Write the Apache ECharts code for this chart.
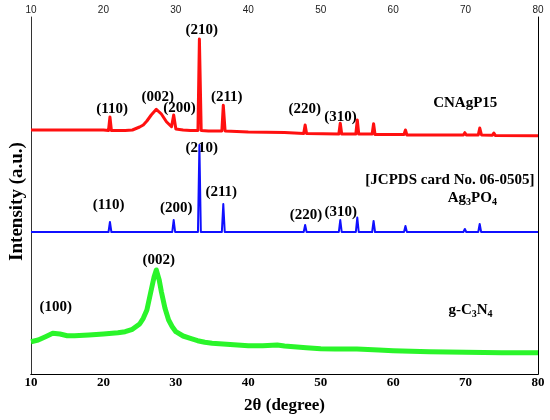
<!DOCTYPE html>
<html>
<head>
<meta charset="utf-8">
<script src="https://cdn.jsdelivr.net/npm/echarts@6/dist/echarts.min.js"></script>
<style>
html,body{margin:0;padding:0;background:#fff;}
#chart{width:550px;height:420px;}
</style>
</head>
<body>
<div id="chart"></div>
<script>
// 2θ ticks
var xTicks = [10, 20, 30, 40, 50, 60, 70, 80];

// CNAgP15 pattern (offset, arbitrary units) [2θ, intensity]
var cnagp15Pattern = [
  [10,244],[15,244],[20,244],[20.7,243.5],[20.9,257],[21.1,243.5],[22,243.5],[23,243.5],
  [24,244],[25,247],[25.5,249],[26,253],[26.6,259],[27.3,264.7],[28,260],[28.7,252.3],
  [29.4,247.3],[29.7,259],[30,245],[31,244],[32,243.5],[33.05,243.5],[33.25,335],[33.5,243.5],
  [34.5,243],[36.35,243],[36.55,268.7],[36.8,243],[40,242],[45,241.5],[47.65,240.5],
  [47.85,249],[48.05,240.5],[52.5,240],[52.7,250.7],[52.9,240],[54.85,240],[55.05,254],
  [55.25,240],[57.1,240],[57.3,250.3],[57.5,239.5],[61.5,239.5],[61.7,244],[61.9,239],
  [69.7,239],[69.9,241.3],[70.1,239],[71.75,239],[71.96,246],[72.2,239],[73.7,238.8],
  [73.9,241],[74.1,238.6],[80,238.3]
];

// Ag3PO4 reference pattern (JCPDS 06-0505)
var ag3po4Pattern = [
  [10,142],[20.7,142],[20.9,152],[21.1,142],[29.5,142],[29.7,154],[29.9,142],
  [33.05,142],[33.25,229],[33.45,142],[36.35,142],[36.55,170],[36.75,142],
  [42.4,142],[42.6,144],[42.8,142],[47.65,142],[47.85,149],[48.05,142],
  [52.5,142],[52.7,154],[52.9,142],[54.85,142],[55.05,156.5],[55.25,142],
  [57.1,142],[57.3,153],[57.5,142],[61.5,142],[61.7,148],[61.9,142],
  [65.7,142],[65.9,143],[66.1,142],[69.7,142],[69.9,145],[70.1,142],
  [71.75,142],[71.95,150],[72.15,142],[73.7,142],[73.9,144],[74.1,142],
  [77.8,142],[78,143],[78.2,142],[80,142]
];

// g-C3N4 pattern
var gc3n4Pattern = [
  [10,32.3],[11,34],[12,37.3],[13,40.7],[14,40],[15,38.3],[16,38.3],[18,39],[20,40],
  [22,41.3],[23,42.3],[24,44.7],[25,50],[25.5,55.7],[26,64],[26.5,80.7],[27,97.3],
  [27.3,104],[27.7,94],[28,82.3],[28.5,65.7],[29,54],[29.5,47.3],[30,42.3],[31,38],
  [32,35.7],[33,33.3],[34,31.7],[35,30.7],[36,30.3],[38,29.3],[40,28.3],[42,28.3],
  [44,29],[45,28],[48,26.3],[50,25.3],[52,25],[55,25],[58,24],[60,23.3],[65,22.3],
  [70,21.7],[75,21.3],[80,21.3]
];

// annotations [2θ, intensity, text]
var cnagp15Labels = [
  [21.19,264.7,'(110)'],[27.49,276.7,'(002)'],[30.51,265.7,'(200)'],[33.56,344,'(210)'],
  [37.03,276.7,'(211)'],[47.78,264.7,'(220)'],[52.74,257.3,'(310)'],[69.96,271.3,'CNAgP15']
];
var ag3po4Labels = [
  [20.71,169,'(110)'],[30.04,166.3,'(200)'],[33.59,225.7,'(210)'],[36.27,181.7,'(211)'],
  [47.97,159,'(220)'],[52.77,162.3,'(310)'],[67.84,194,'[JCPDS card No. 06-0505]'],
  [70.93,175.7,'{b|Ag}{s|3}{b|PO}{s|4}']
];
var gc3n4Labels = [
  [27.64,114,'(002)'],[13.4,66.7,'(100)'],[70.68,64,'{b|g-C}{s|3}{b|N}{s|4}']
];

var SERIF = 'Liberation Serif, Times New Roman, serif';

function lineSeries(data, color, width) {
  return {
    type: 'line',
    z: 3,
    data: data,
    showSymbol: false,
    silent: true,
    lineStyle: { color: color, width: width, join: 'round' }
  };
}

var chart = echarts.init(document.getElementById('chart'));
chart.setOption({
  animation: false,
  backgroundColor: '#fff',
  grid: { left: 27, right: 12, top: 17, bottom: 46 },
  xAxis: [
    {
      type: 'value', position: 'bottom', min: xTicks[0], max: xTicks[xTicks.length - 1], interval: 10,
      axisLine: { show: true, lineStyle: { color: '#000', width: 1 } },
      axisTick: { show: false }, splitLine: { show: false },
      axisLabel: { fontFamily: SERIF, fontWeight: 'bold', fontSize: 13, color: '#000', margin: 2 },
      name: '2θ (degree)', nameLocation: 'middle', nameGap: 23,
      nameTextStyle: { fontFamily: SERIF, fontWeight: 'bold', fontSize: 17, color: '#000' }
    },
    {
      type: 'value', position: 'top', min: xTicks[0], max: xTicks[xTicks.length - 1], interval: 10,
      axisLine: { show: true, lineStyle: { color: '#000', width: 1 } },
      axisTick: { show: false }, splitLine: { show: false },
      axisLabel: { fontFamily: 'Liberation Sans, Arial, sans-serif', fontSize: 10, color: '#222', margin: 2 }
    }
  ],
  yAxis: [
    {
      type: 'value', position: 'left', min: 0, max: 357,
      axisLine: { show: true, lineStyle: { color: '#333', width: 1 } },
      axisTick: { show: false }, splitLine: { show: false }, axisLabel: { show: false },
      name: 'Intensity (a.u.)', nameLocation: 'middle', nameGap: 4, nameRotate: 90,
      nameTextStyle: { fontFamily: SERIF, fontWeight: 'bold', fontSize: 19, color: '#000', padding: [0, 12, 0, 0] }
    },
    {
      type: 'value', position: 'right', min: 0, max: 357,
      axisLine: { show: true, lineStyle: { color: '#000', width: 1 } },
      axisTick: { show: false }, splitLine: { show: false }, axisLabel: { show: false }
    }
  ],
  series: [
    lineSeries(gc3n4Pattern, '#2af52a', 5),
    lineSeries(ag3po4Pattern, '#1010ff', 2),
    lineSeries(cnagp15Pattern, '#ff1010', 3)
  ]
});

var RICH = {
  b: { fontFamily: SERIF, fontWeight: 'bold', fontSize: 15, fill: '#000' },
  s: { fontFamily: SERIF, fontWeight: 'bold', fontSize: 10, fill: '#000', padding: [9, 0, 0, 0] }
};
var texts = [];
[cnagp15Labels, ag3po4Labels, gc3n4Labels].forEach(function (arr) {
  arr.forEach(function (d) {
    var p = chart.convertToPixel({ xAxisIndex: 0, yAxisIndex: 0 }, [d[0], d[1]]);
    texts.push({
      type: 'text',
      x: p[0], y: p[1], z: 1, silent: true,
      style: {
        text: d[2], fill: '#000', fontFamily: SERIF, fontWeight: 'bold', fontSize: 15,
        align: 'center', verticalAlign: 'middle', rich: RICH
      }
    });
  });
});
chart.setOption({ graphic: texts });
</script>
</body>
</html>
